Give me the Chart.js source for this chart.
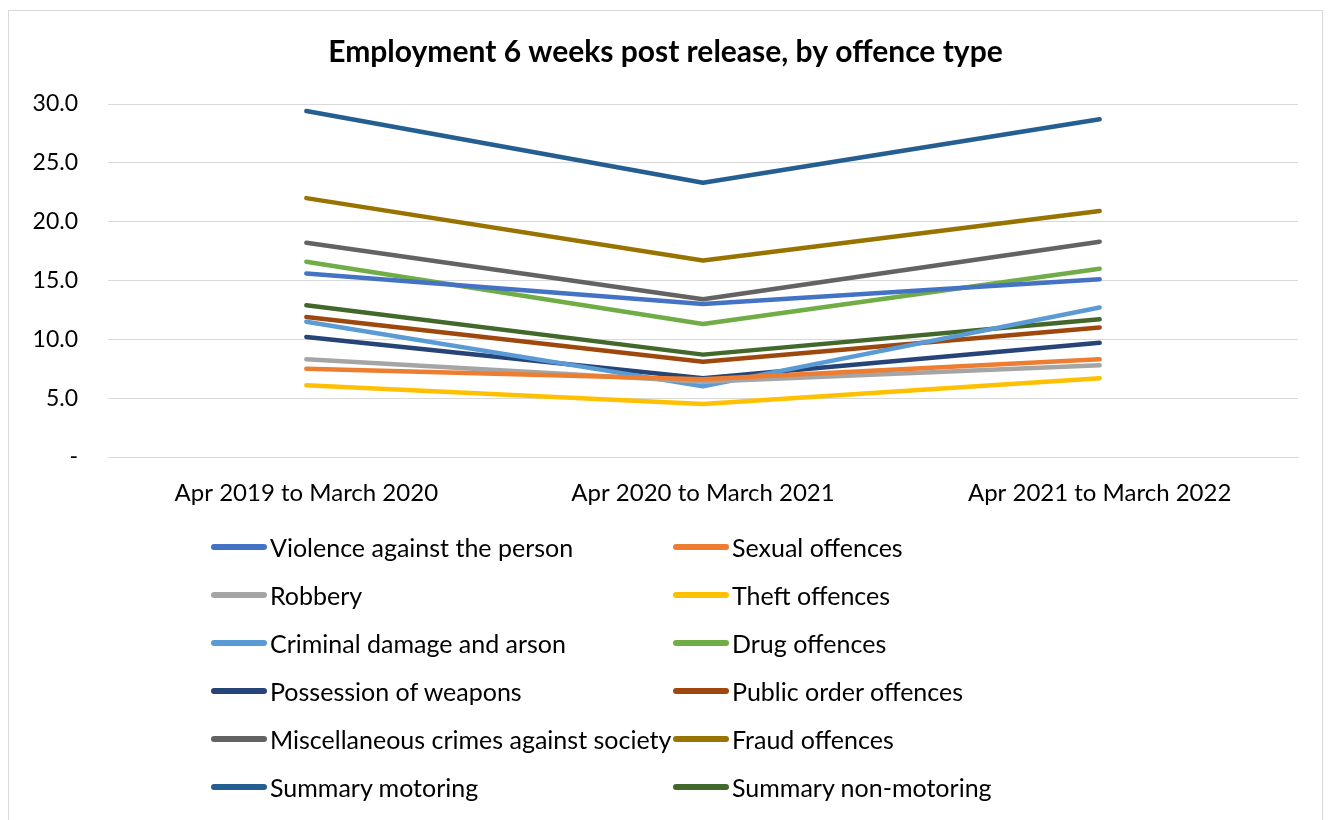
<!DOCTYPE html>
<html>
<head>
<meta charset="utf-8">
<script src="https://cdn.jsdelivr.net/npm/chart.js@4.4.0/dist/chart.umd.min.js"></script>
<style>
  body { margin: 0; background: #fff; font-family: Lato, "Noto Sans", sans-serif; }
  #box { position: absolute; left: 8px; top: 10px; width: 1313px; height: 830px; border: 1px solid #d9d9d9; }
  #legend { position: absolute; left: 202px; top: 512px; display: grid; grid-template-columns: 462px 400px; row-gap: 0; }
  .item { height: 48px; display: flex; align-items: center; font-size: 25px; color: #000; white-space: nowrap; }
  .swatch { width: 56px; height: 6px; border-radius: 3px; margin-right: 3px; }
</style>
</head>
<body>
<div id="box">
  <canvas id="grafico" width="1313" height="520"></canvas>
  <div id="legend"></div>
</div>
<script>
// periodos
var categorias = ["Apr 2019 to March 2020", "Apr 2020 to March 2021", "Apr 2021 to March 2022"];

var nombres = [
  "Violence against the person", "Sexual offences",
  "Robbery", "Theft offences",
  "Criminal damage and arson", "Drug offences",
  "Possession of weapons", "Public order offences",
  "Miscellaneous crimes against society", "Fraud offences",
  "Summary motoring", "Summary non-motoring"
];

var violencia = [15.6, 13.0, 15.1];
var sexual = [7.5, 6.6, 8.3];
var robo = [8.3, 6.4, 7.8];
var hurto = [6.1, 4.5, 6.7];
var danos = [11.5, 6.0, 12.7];
var drogas = [16.6, 11.3, 16.0];
var armas = [10.2, 6.7, 9.7];
var ordenPublico = [11.9, 8.1, 11.0];
var miscelanea = [18.2, 13.4, 18.3];
var fraude = [22.0, 16.7, 20.9];
var motor = [29.4, 23.3, 28.7];
var noMotor = [12.9, 8.7, 11.7];

var series = [violencia, sexual, robo, hurto, danos, drogas, armas, ordenPublico, miscelanea, fraude, motor, noMotor];
var colores = ["#4472C4", "#ED7D31", "#A5A5A5", "#FFC000", "#5B9BD5", "#70AD47",
               "#264478", "#9E480E", "#636363", "#997300", "#255E91", "#43682B"];

var datasets = series.map(function(valores, i) {
  return {
    label: nombres[i],
    data: valores,
    borderColor: colores[i],
    backgroundColor: colores[i],
    borderWidth: 4.5,
    borderCapStyle: 'round',
    borderJoinStyle: 'round',
    pointRadius: 0,
    tension: 0
  };
});

const ctx = document.getElementById("grafico").getContext('2d');
var grafica = new Chart(ctx, {
  type: 'line',
  data: { labels: categorias, datasets: datasets },
  options: {
    responsive: false,
    animation: false,
    layout: { padding: { left: 24, right: 24, top: 0, bottom: 0 } },
    plugins: {
      legend: { display: false },
      tooltip: { enabled: false },
      title: {
        display: true,
        text: "Employment 6 weeks post release, by offence type",
        color: '#000',
        font: { family: 'Lato', size: 30, weight: 'bold' },
        padding: { top: 23, bottom: 34 }
      }
    },
    scales: {
      x: {
        offset: true,
        grid: { display: false },
        border: { display: true, color: '#d9d9d9' },
        ticks: { color: '#000', font: { family: 'Lato', size: 24 }, padding: 14, maxRotation: 0 },
        afterFit: function(scale) { scale.height = 74; }
      },
      y: {
        min: 0, max: 30,
        grid: { color: '#d9d9d9', lineWidth: 1, drawTicks: false },
        border: { display: false },
        ticks: {
          stepSize: 5, color: '#000', padding: 30,
          font: { family: 'Lato', size: 23 },
          callback: function(v) { return v === 0 ? "-" : v.toFixed(1); }
        },
        afterFit: function(scale) { scale.width = 75; }
      }
    }
  }
});

// leyenda en html, dos columnas
var leyenda = document.getElementById("legend");
grafica.data.datasets.forEach(function(ds) {
  var html = '<div class="item"><span class="swatch" style="background:' + ds.borderColor + '"></span>' + ds.label + '</div>';
  leyenda.insertAdjacentHTML('beforeend', html);
});
</script>
</body>
</html>
